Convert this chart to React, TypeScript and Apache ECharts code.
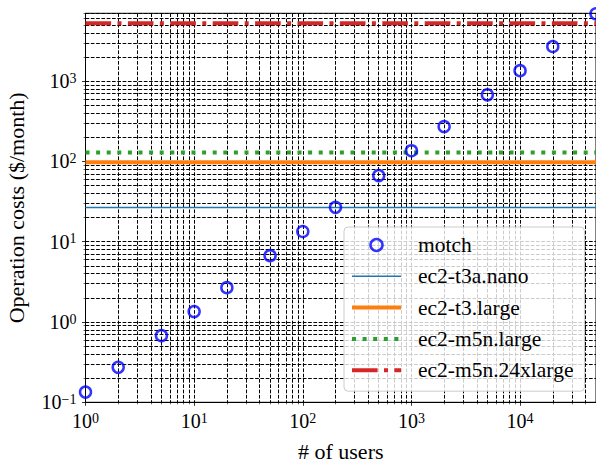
import React, { useEffect, useRef } from 'react';
import * as echarts from 'echarts';

const users = [1, 2, 5, 10, 20, 50, 100, 200, 500, 1000, 2000, 5000, 10000, 20000, 50000];
const motchCosts = [0.134, 0.273, 0.676, 1.35, 2.68, 6.7, 13.4, 26.8, 66.6, 136, 272, 676, 1350, 2700, 6900];
const instanceNames = ['ec2-t3a.nano', 'ec2-t3.large', 'ec2-m5n.large', 'ec2-m5n.24xlarge'];
const instanceCosts = [26.7, 98, 129.5, 5280];
const instanceColors = ['#1f77b4', '#ff7f0e', '#2ca02c', '#d62728'];
const instanceWidths = [1.5, 4, 4, 4];
const instanceDash: any[] = ['solid', 'solid', [4, 6.6], [25.6, 6.4, 4, 6.4]];
const xMajorTicks = [1, 10, 100, 1000, 10000];
const yMajorTicks = [0.1, 1, 10, 100, 1000];
const minorMultipliers = [2, 3, 4, 5, 6, 7, 8, 9];
const xRange = [1, 50000];
const yRange = [0.1, 7000];

const FONT = 'Liberation Serif';

function minorsOf(majors: number[], max: number) {
  const out: number[] = [];
  majors.forEach((m) => minorMultipliers.forEach((k) => {
    const v = m * k;
    if (v <= max) out.push(v);
  }));
  return out;
}

const rich: any = {
  b: { fontSize: 20, lineHeight: 20, padding: [8, 0, 0, 0], verticalAlign: 'bottom', fontFamily: FONT, color: '#000' },
  s: { fontSize: 14, lineHeight: 14, verticalAlign: 'top', fontFamily: FONT, color: '#000' },
};
const fmt = (v: number) => {
  const e = Math.round(Math.log10(v));
  return `{b|10}{s|${e < 0 ? '\u2212' + -e : e}}`;
};

const gridLine = { show: true, lineStyle: { color: '#000', width: 1, type: [3.7, 1.6] as any } };

export default function App() {
  const ref = useRef<HTMLDivElement>(null);
  useEffect(() => {
    const chart = echarts.init(ref.current!, undefined, { renderer: 'svg' });
    const xMinor = minorsOf(xMajorTicks, xRange[1]);
    const yMinor = minorsOf(yMajorTicks, yRange[1]);
    const nameStyle = { fontSize: 22, fontFamily: FONT, color: '#000' };
    const baseAxis = (min: number, max: number) => ({
      type: 'log' as const,
      logBase: 10,
      min,
      max,
      minorTick: { show: false },
      minorSplitLine: { show: false },
    });
    chart.setOption({
      animation: false,
      textStyle: { fontFamily: FONT },
      grid: {
        left: 85.5, right: 0, top: 13.3, bottom: 60.7,
        show: true, borderColor: '#000', borderWidth: 1, backgroundColor: 'transparent',
        outerBoundsMode: 'none', containLabel: false,
      },
      xAxis: [
        {
          ...baseAxis(xRange[0], xRange[1]),
          position: 'bottom',
          axisLine: { show: true, onZero: false, lineStyle: { color: '#000', width: 1 } },
          axisTick: { show: true, inside: false, length: 3.5, lineStyle: { color: '#000', width: 0.8 }, customValues: xMajorTicks },
          axisLabel: { show: true, margin: 9, customValues: xMajorTicks, formatter: fmt, rich, hideOverlap: false, fontFamily: FONT },
          splitLine: gridLine,
          name: '# of users', nameLocation: 'middle', nameGap: 38, nameTextStyle: nameStyle,
          nameMoveOverlap: false,
        },
        {
          ...baseAxis(xRange[0], xRange[1]),
          position: 'bottom',
          axisLine: { show: false, onZero: false },
          axisTick: { show: true, inside: false, length: 2, lineStyle: { color: '#000', width: 0.6 }, customValues: xMinor },
          axisLabel: { show: false },
          splitLine: gridLine,
        },
      ],
      yAxis: [
        {
          ...baseAxis(yRange[0], yRange[1]),
          position: 'left',
          axisLine: { show: true, onZero: false, lineStyle: { color: '#000', width: 1 } },
          axisTick: { show: true, inside: false, length: 3.5, lineStyle: { color: '#000', width: 0.8 }, customValues: yMajorTicks },
          axisLabel: { show: true, margin: 9, customValues: yMajorTicks, formatter: fmt, rich, hideOverlap: false, fontFamily: FONT },
          splitLine: gridLine,
          name: 'Operation costs ($/month)', nameLocation: 'middle', nameGap: 58, nameRotate: 90, nameTextStyle: nameStyle,
          nameMoveOverlap: false,
        },
        {
          ...baseAxis(yRange[0], yRange[1]),
          position: 'left',
          axisLine: { show: false, onZero: false },
          axisTick: { show: true, inside: false, length: 2, lineStyle: { color: '#000', width: 0.6 }, customValues: yMinor },
          axisLabel: { show: false },
          splitLine: gridLine,
        },
      ],
      legend: {
        orient: 'vertical', left: 344, top: 227,
        padding: [7, 11, 10, 6],
        itemWidth: 49, itemHeight: 12, itemGap: 9.3,
        backgroundColor: 'rgba(255,255,255,0.8)', borderColor: '#cccccc', borderWidth: 1, borderRadius: 4,
        textStyle: { fontSize: 21.5, fontFamily: FONT, color: '#000', lineHeight: 22, padding: [0, 0, 0, 12] },
        data: [
          { name: 'motch', icon: 'circle', itemStyle: { color: 'rgba(0,0,0,0)', borderColor: '#0000ff', borderWidth: 2.5 } },
          ...instanceNames.map((n, i) => ({
            name: n,
            itemStyle: { color: 'rgba(0,0,0,0)', borderColor: 'rgba(0,0,0,0)', borderWidth: 0, opacity: 0 },
            lineStyle: { color: instanceColors[i], width: instanceWidths[i], type: instanceDash[i], cap: 'butt', opacity: 1 },
          })),
        ],
      },
      series: [
        ...instanceNames.map((n, i) => ({
          name: n,
          type: 'line',
          xAxisIndex: 0,
          yAxisIndex: 0,
          data: [[xRange[0], instanceCosts[i]], [xRange[1], instanceCosts[i]]],
          symbol: 'none',
          silent: true,
          z: 3,
          lineStyle: { color: instanceColors[i], width: instanceWidths[i], type: instanceDash[i], cap: 'butt' },
          itemStyle: { color: instanceColors[i] },
        })),
        {
          name: 'motch',
          type: 'scatter',
          xAxisIndex: 0,
          yAxisIndex: 0,
          data: users.map((u, i) => [u, motchCosts[i]]),
          symbol: 'circle',
          symbolSize: 11,
          clip: true,
          z: 5,
          itemStyle: { color: 'rgba(0,0,0,0)', borderColor: '#0000ff', borderWidth: 2.5 },
        },
      ],
    });
    return () => chart.dispose();
  }, []);
  return <div ref={ref} style={{ position: 'absolute', left: 0, top: 0, width: 596, height: 463 }} />;
}
